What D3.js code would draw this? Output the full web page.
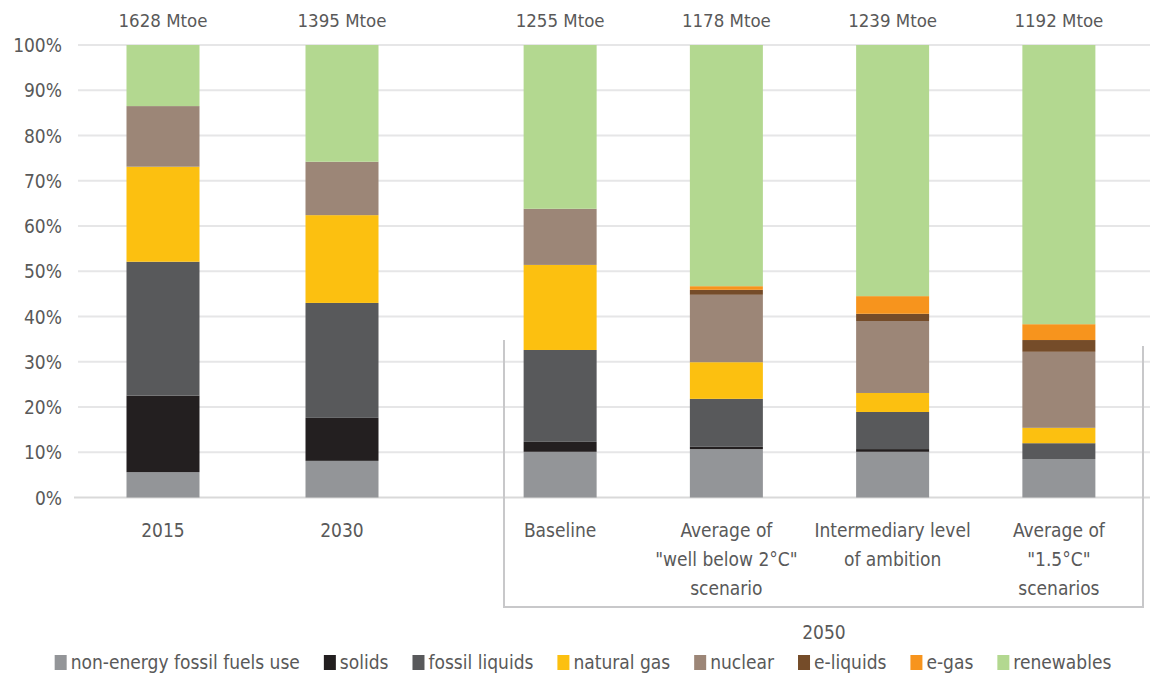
<!DOCTYPE html>
<html>
<head>
<meta charset="utf-8">
<script src="https://cdn.jsdelivr.net/npm/d3@7"></script>
<style>
  html, body { margin: 0; padding: 0; background: #fff; }
  svg { display: block; }
  text { font-family: "DejaVu Sans Condensed", "Liberation Sans Narrow", "DejaVu Sans", sans-serif; fill: #595959; }
</style>
</head>
<body>
<svg id="chart" width="1150" height="674"></svg>
<script>
// ---- data ----
const categories = ["2015", "2030", "Baseline", "Average of \"well below 2°C\" scenario", "Intermediary level of ambition", "Average of \"1.5°C\" scenarios"];
const categoryLines = [["2015"], ["2030"], ["Baseline"], ["Average of", "\"well below 2°C\"", "scenario"], ["Intermediary level", "of ambition"], ["Average of", "\"1.5°C\"", "scenarios"]];
const groupA = ["2015", "2030"];
const groupB = ["Baseline", "Average of \"well below 2°C\" scenario", "Intermediary level of ambition", "Average of \"1.5°C\" scenarios"];
const totals = ["1628 Mtoe", "1395 Mtoe", "1255 Mtoe", "1178 Mtoe", "1239 Mtoe", "1192 Mtoe"];
const seriesNames = ["non-energy fossil fuels use", "solids", "fossil liquids", "natural gas", "nuclear", "e-liquids", "e-gas", "renewables"];
const seriesColors = ["#939598", "#231f20", "#58595b", "#fcc010", "#9c8677", "#754c29", "#f7941d", "#b3d890"];
// shares in % per category (order = categories)
const nonEnergy     = [5.6, 8.1, 10.1, 10.7, 10.1, 8.5];
const solids        = [16.9, 9.5, 2.2, 0.5, 0.6, 0.0];
const fossilLiquids = [29.6, 25.4, 20.3, 10.6, 8.2, 3.5];
const naturalGas    = [21.0, 19.4, 18.8, 8.1, 4.2, 3.4];
const nuclear       = [13.4, 11.8, 12.4, 14.9, 15.9, 16.8];
const eLiquids      = [0.0, 0.0, 0.0, 1.1, 1.6, 2.6];
const eGas          = [0.0, 0.0, 0.0, 0.8, 3.9, 3.5];
const renewables    = [13.5, 25.8, 36.2, 53.3, 55.5, 61.7];
const yTicks = [0, 10, 20, 30, 40, 50, 60, 70, 80, 90, 100];
const groupLabel = "2050";

const seriesValues = [nonEnergy, solids, fossilLiquids, naturalGas, nuclear, eLiquids, eGas, renewables];
const rows = categories.map((c, i) => {
  const r = { category: c };
  seriesNames.forEach((s, j) => r[s] = seriesValues[j][i]);
  return r;
});

const svg = d3.select("#chart");
const y = d3.scaleLinear().domain([0, 100]).range([497.5, 45]);
const xA = d3.scaleBand().domain(groupA).range([73.5, 431.5]);
const xB = d3.scaleBand().domain(groupB).range([477, 1142]);
const barW = 73;
const cx = c => groupA.includes(c) ? xA(c) + xA.bandwidth() / 2 : xB(c) + xB.bandwidth() / 2;

// gridlines
svg.append("g").selectAll("line").data(yTicks).join("line")
  .attr("x1", d => d === 0 ? 74 : 78).attr("x2", 1150)
  .attr("y1", d => y(d)).attr("y2", d => y(d))
  .attr("stroke", d => d === 0 ? "#d9d9d9" : "#e6e6e7").attr("stroke-width", 2);

// y axis labels
const yAxis = d3.axisLeft(y).tickValues(yTicks).tickFormat(d => d + "%").tickSize(0).tickPadding(0);
const ya = svg.append("g").attr("transform", "translate(62,0)").call(yAxis);
ya.select(".domain").remove();
ya.selectAll("text").attr("font-size", 19).style("font-family", null).attr("fill", "#595959").attr("dy", "0.35em");

// bracket for 2050
svg.append("path")
  .attr("d", "M504,340V607H1143V346")
  .attr("fill", "none").attr("stroke", "#c8c8ca").attr("stroke-width", 2);

// stacked bars
const stack = d3.stack().keys(seriesNames)(rows);
svg.append("g").selectAll("g").data(stack).join("g")
  .attr("fill", (d, i) => seriesColors[i])
  .selectAll("rect").data(d => d.filter(p => p[1] - p[0] > 0)).join("rect")
  .attr("x", d => cx(d.data.category) - barW / 2)
  .attr("width", barW)
  .attr("y", d => y(d[1]))
  .attr("height", d => y(d[0]) - y(d[1]));

// totals on top
svg.append("g").selectAll("text").data(categories).join("text")
  .attr("x", c => cx(c)).attr("y", 27)
  .attr("text-anchor", "middle").attr("font-size", 18.5)
  .text((c, i) => totals[i]);

// category labels
const cl = svg.append("g").selectAll("text").data(categories).join("text")
  .attr("x", c => cx(c)).attr("y", 537)
  .attr("text-anchor", "middle").attr("font-size", 19);
cl.selectAll("tspan").data((c, i) => categoryLines[i].map(l => ({ l, c }))).join("tspan")
  .attr("x", d => cx(d.c)).attr("dy", (d, i) => i === 0 ? 0 : 29).text(d => d.l);

// group label
svg.append("text").attr("x", 824).attr("y", 639).attr("text-anchor", "middle").attr("font-size", 19).text(groupLabel);

// legend
const lg = svg.append("g");
let lx = 0;
seriesNames.forEach((s, i) => {
  const g = lg.append("g");
  g.append("rect").attr("x", 0).attr("y", -8).attr("width", 12).attr("height", 15).attr("fill", seriesColors[i]);
  const t = g.append("text").attr("x", 16).attr("y", 6).attr("font-size", 19).text(s);
  const w = 16 + t.node().getComputedTextLength();
  g.attr("transform", `translate(${lx},663)`);
  lx += w + 24;
});
const totalW = lx - 24;
lg.attr("transform", `translate(${583 - totalW / 2},0)`);
</script>
</body>
</html>
